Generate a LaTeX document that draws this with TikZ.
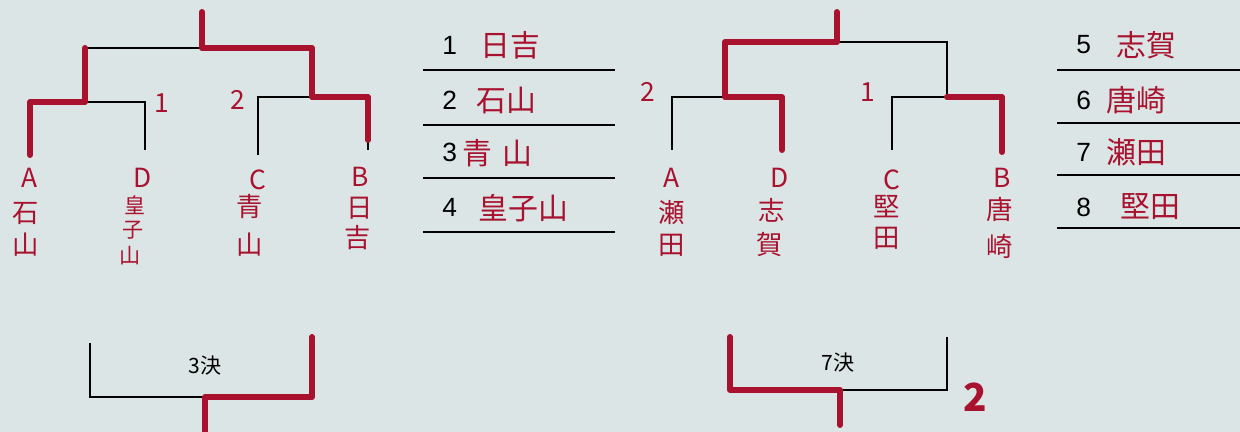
\documentclass[tikz,border=0pt]{standalone}
\usepackage{fontspec}
\setmainfont{Liberation Sans}
\newfontfamily\cjk{Noto Sans CJK JP}
\definecolor{paper}{HTML}{DCE5E5}
\definecolor{ink}{HTML}{A8122E}
\tikzset{
  blk/.style={line width=1.5pt, black},
  win/.style={line width=3.4pt, ink, line cap=round, line join=round},
  hand/.style={text=ink, font=\cjk\fontsize{15}{15}\selectfont, inner sep=0},
  handsm/.style={text=ink, font=\cjk\fontsize{12}{12}\selectfont, inner sep=0},
  num/.style={font=\fontsize{15}{15}\selectfont, inner sep=0, anchor=west},
  nm/.style={text=ink, font=\cjk\fontsize{17}{17}\selectfont, inner sep=0, anchor=west},
  rule/.style={line width=1.5pt, black},
  lbl/.style={font=\cjk\fontsize{12}{12}\selectfont, inner sep=0},
}
\begin{document}
\begin{tikzpicture}[x=0.02cm,y=-0.02cm]
\fill[paper] (0,0) rectangle (1240,432);
\useasboundingbox (0,0) rectangle (1240,432);

% ---------- left bracket ----------
\coordinate (Lt) at (202,12);
\coordinate (Lm) at (202,48);
\coordinate (Ll) at (85,48);
\coordinate (Lr) at (312,48);
\coordinate (Lld) at (85,102);
\coordinate (Lrd) at (312,97);
\coordinate (LA) at (30,102);  \coordinate (LAb) at (30,155);
\coordinate (LD) at (145,102); \coordinate (LDb) at (145,150);
\coordinate (LC) at (258,97);  \coordinate (LCb) at (258,155);
\coordinate (LB) at (368,97);  \coordinate (LBb) at (368,150);
\coordinate (LBr) at (368,140);
\draw[blk] (Ll) -- (Lr);
\draw[blk] (Ll) -- (Lld);
\draw[blk] (Lr) -- (Lrd);
\draw[blk] (LAb) -- (LA) -- (LD) -- (LDb);
\draw[blk] (LCb) -- (LC) -- (LB) -- (LBb);
\draw[win] (LAb) -- (LA) -- (Lld) -- (Ll);
\draw[win] (Lt) -- (Lm) -- (Lr) -- (Lrd) -- (LB) -- (LBr);

\node[hand] (l1) at (162,103) {1};
\node[hand] (l2) at (238,100) {2};

\node[hand] (lA) at (30,178) {A};
\node[hand] (lA1) at (26,213) {石};
\node[hand] (lA2) at (26,245) {山};
\node[hand] (lD) at (143,178) {D};
\node[handsm] (lD1) at (135,205) {皇};
\node[handsm] (lD2) at (133,230) {子};
\node[handsm] (lD3) at (130,256) {山};
\node[hand] (lC) at (258,180) {C};
\node[hand] (lC1) at (250,207) {青};
\node[hand] (lC2) at (250,245) {山};
\node[hand] (lB) at (360,177) {B};
\node[hand] (lB1) at (360,208) {日};
\node[hand] (lB2) at (358,238) {吉};

% ---------- left list ----------
\node[num] (n1) at (442,45) {1};
\node[nm] (m1) at (480,45) {日吉};
\node[num] (n2) at (442,100) {2};
\node[nm] (m2) at (476,100) {石山};
\node[num] (n3) at (442,152) {3};
\node[nm] (m3) at (462,153) {青\,\,山};
\node[num] (n4) at (442,207) {4};
\node[nm] (m4) at (478,208) {皇子山};
\foreach \y/\k in {70/a,125/b,178/c,232/d}{
  \coordinate (ll\k) at (423,\y); \coordinate (lr\k) at (615,\y);
  \draw[rule] (ll\k) -- (lr\k);
}

% ---------- left bottom bracket ----------
\coordinate (BL1) at (90,343);
\coordinate (BL2) at (90,397);
\coordinate (BR2) at (312,397);
\coordinate (BR1) at (312,337);
\coordinate (BM) at (205,397);
\coordinate (BMb) at (205,436);
\draw[blk] (BL1) -- (BL2) -- (BR2) -- (BR1);
\draw[win] (BR1) -- (BR2) -- (BM) -- (BMb);
\node[lbl] (k3) at (205,366) {3決};

% ---------- right bracket ----------
\coordinate (Rt) at (837,12);
\coordinate (Rm) at (837,42);
\coordinate (Rl) at (725,42);
\coordinate (Rr) at (947,42);
\coordinate (Rld) at (725,97);
\coordinate (Rrd) at (947,97);
\coordinate (RA) at (672,97);  \coordinate (RAb) at (672,150);
\coordinate (RD) at (782,97);  \coordinate (RDb) at (782,150);
\coordinate (RC) at (892,97);  \coordinate (RCb) at (892,150);
\coordinate (RB) at (1002,97); \coordinate (RBb) at (1002,152);
\draw[blk] (Rl) -- (Rr) -- (Rrd);
\draw[blk] (Rl) -- (Rld);
\draw[blk] (RAb) -- (RA) -- (RD) -- (RDb);
\draw[blk] (RCb) -- (RC) -- (RB) -- (RBb);
\draw[win] (Rt) -- (Rm) -- (Rl) -- (Rld) -- (RD) -- (RDb);
\draw[win] (Rrd) -- (RB) -- (RBb);

\node[hand] (r2) at (648,92) {2};
\node[hand] (r1) at (868,92) {1};

\node[hand] (rA) at (672,178) {A};
\node[hand] (rA1) at (672,213) {瀬};
\node[hand] (rA2) at (672,245) {田};
\node[hand] (rD) at (780,178) {D};
\node[hand] (rD1) at (772,210) {志};
\node[hand] (rD2) at (770,245) {賀};
\node[hand] (rC) at (892,180) {C};
\node[hand] (rC1) at (887,207) {堅};
\node[hand] (rC2) at (887,238) {田};
\node[hand] (rB) at (1002,178) {B};
\node[hand] (rB1) at (1000,210) {唐};
\node[hand] (rB2) at (1000,246) {崎};

% ---------- right list ----------
\node[num] (n5) at (1076,45) {5};
\node[nm] (m5) at (1116,45) {志賀};
\node[num] (n6) at (1076,100) {6};
\node[nm] (m6) at (1106,100) {唐崎};
\node[num] (n7) at (1076,152) {7};
\node[nm] (m7) at (1106,152) {瀬田};
\node[num] (n8) at (1076,207) {8};
\node[nm] (m8) at (1120,207) {堅田};
\foreach \y/\k in {70/a,123/b,175/c,228/d}{
  \coordinate (rl\k) at (1057,\y); \coordinate (rr\k) at (1240,\y);
  \draw[rule] (rl\k) -- (rr\k);
}

% ---------- right bottom bracket ----------
\coordinate (CL1) at (730,337);
\coordinate (CL2) at (730,390);
\coordinate (CR2) at (947,390);
\coordinate (CR1) at (947,337);
\coordinate (CM) at (840,390);
\coordinate (CMb) at (840,425);
\draw[blk] (CL1) -- (CL2) -- (CR2) -- (CR1);
\draw[win] (CL1) -- (CL2) -- (CM) -- (CMb);
\node[lbl] (k7) at (838,363) {7決};
\node[hand, font=\cjk\bfseries\fontsize{22}{22}\selectfont] (r2b) at (975,397) {2};
\end{tikzpicture}
\end{document}
